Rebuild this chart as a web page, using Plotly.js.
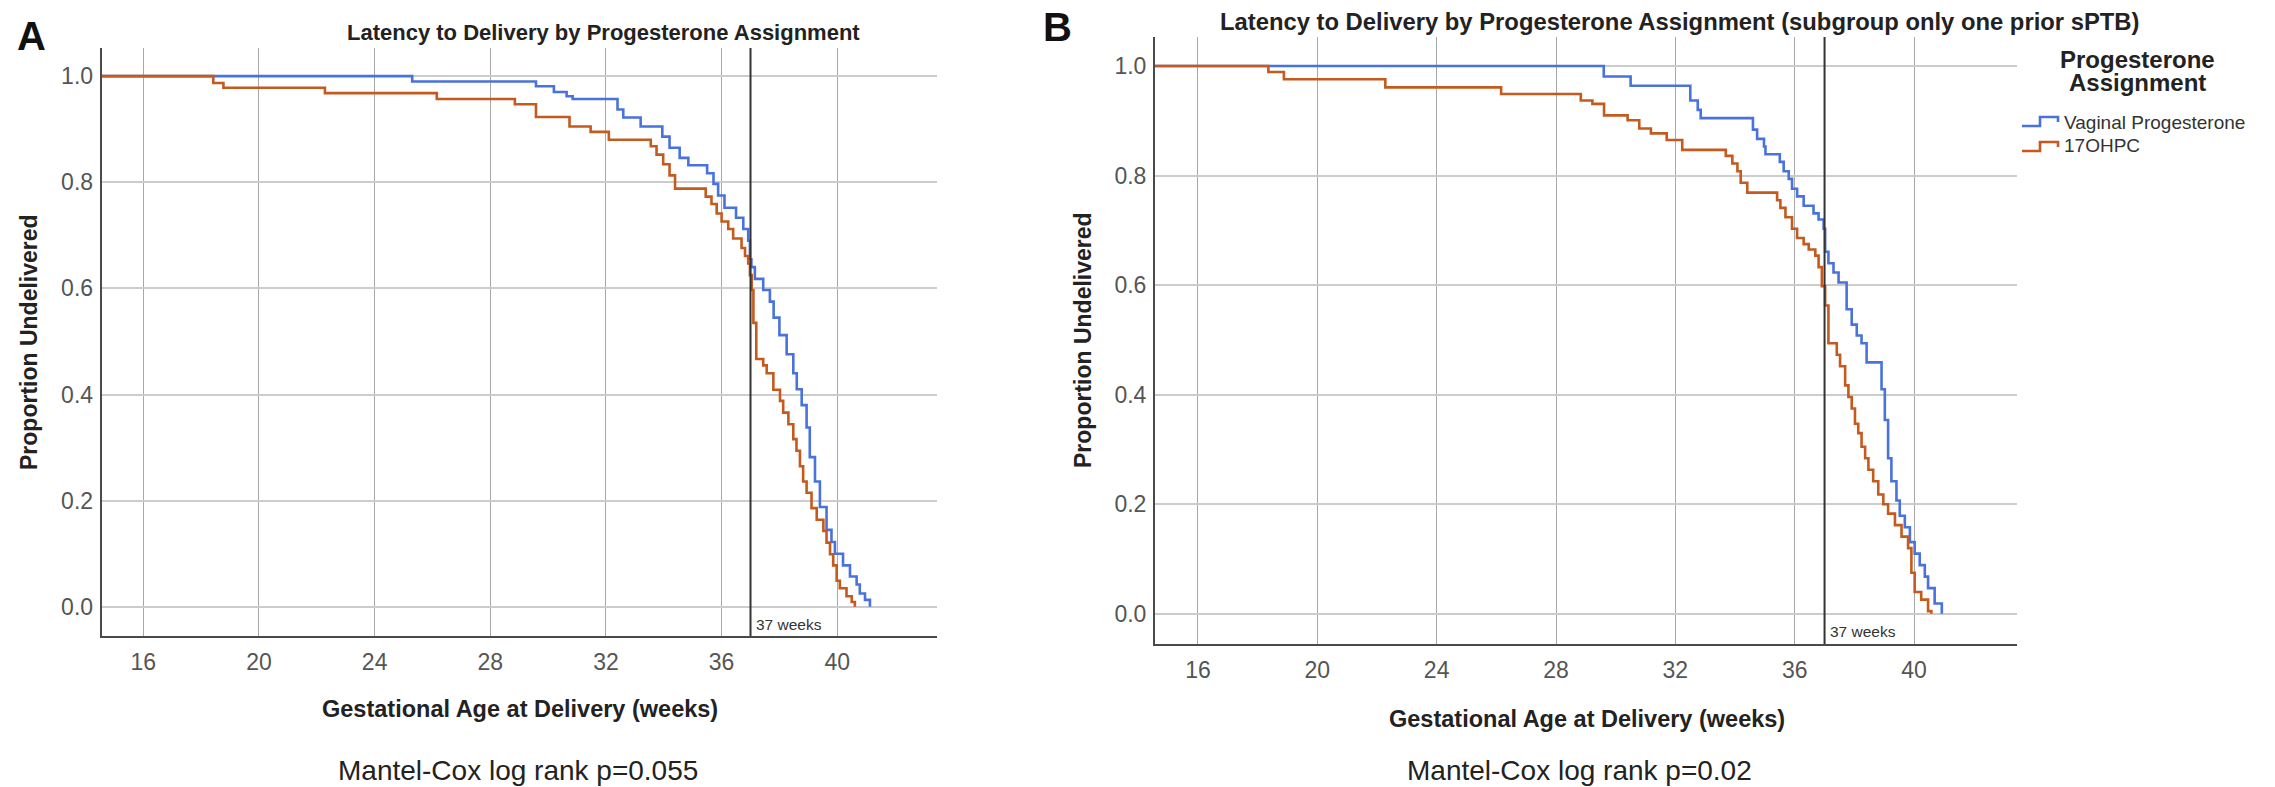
<!DOCTYPE html>
<html><head><meta charset="utf-8">
<script src="https://cdn.plot.ly/plotly-3.0.1.min.js"></script>
<style>html,body{margin:0;padding:0;background:#fff;}#chart{width:2275px;height:787px;}</style>
</head><body><div id="chart"></div>
<script>
// ---------------- data ----------------
const seriesNames = ["Vaginal Progesterone", "17OHPC"];

const weeksA_vaginal = [14.56,25.3,29.58,30.2,30.64,30.85,32.4,32.6,33.2,33.95,34.2,34.55,34.85,35.5,35.72,35.88,36.1,36.5,36.75,36.92,36.98,37.03,37.15,37.44,37.67,37.8,38.0,38.25,38.48,38.6,38.77,38.94,39.05,39.23,39.4,39.63,39.8,39.92,40.2,40.44,40.67,40.78,40.96,41.13];
const survA_vaginal  = [1.0,0.990,0.981,0.970,0.962,0.957,0.937,0.922,0.905,0.886,0.865,0.846,0.832,0.817,0.797,0.775,0.752,0.733,0.712,0.690,0.655,0.640,0.618,0.597,0.575,0.545,0.512,0.476,0.440,0.410,0.380,0.338,0.282,0.236,0.188,0.145,0.122,0.100,0.078,0.057,0.042,0.025,0.013,0.0];

const weeksA_17ohpc = [14.56,18.42,18.77,22.28,26.15,28.85,29.58,30.74,31.47,32.1,33.55,33.75,33.98,34.2,34.39,35.45,35.65,35.83,36.0,36.23,36.4,36.69,36.81,36.92,36.98,37.04,37.1,37.2,37.44,37.56,37.79,38.02,38.13,38.31,38.48,38.59,38.71,38.82,38.94,39.11,39.29,39.52,39.63,39.75,39.86,39.98,40.09,40.32,40.5,40.61];
const survA_17ohpc  = [1.0,0.987,0.978,0.968,0.957,0.947,0.923,0.905,0.895,0.880,0.868,0.852,0.834,0.813,0.788,0.773,0.759,0.741,0.726,0.712,0.694,0.676,0.661,0.647,0.625,0.597,0.535,0.467,0.455,0.440,0.409,0.388,0.366,0.344,0.316,0.294,0.265,0.236,0.215,0.186,0.164,0.143,0.121,0.099,0.078,0.049,0.035,0.020,0.009,0.0];

const weeksB_vaginal = [14.55,29.6,30.5,32.5,32.75,32.85,34.6,34.74,34.97,35.02,35.5,35.63,35.8,35.91,36.08,36.3,36.63,36.8,36.97,37.02,37.13,37.3,37.47,37.74,37.91,38.08,38.24,38.41,38.91,39.02,39.13,39.24,39.41,39.52,39.69,39.86,40.02,40.19,40.36,40.47,40.69,40.93];
const survB_vaginal  = [1.0,0.981,0.964,0.937,0.920,0.905,0.884,0.867,0.853,0.839,0.825,0.808,0.794,0.776,0.762,0.745,0.731,0.720,0.703,0.661,0.640,0.623,0.605,0.556,0.528,0.508,0.494,0.459,0.410,0.354,0.284,0.242,0.207,0.179,0.158,0.131,0.110,0.089,0.068,0.047,0.019,0.0];

const weeksB_17ohpc = [14.55,18.36,18.88,22.28,26.16,28.83,29.22,29.61,30.4,30.79,31.18,31.71,32.23,33.69,33.91,34.08,34.19,34.41,35.41,35.52,35.69,35.91,36.08,36.3,36.47,36.69,36.8,36.91,37.02,37.13,37.41,37.52,37.69,37.8,37.91,38.02,38.13,38.24,38.36,38.47,38.63,38.8,38.97,39.13,39.36,39.58,39.8,39.91,40.02,40.24,40.47,40.58];
const survB_17ohpc  = [1.0,0.989,0.976,0.961,0.949,0.937,0.931,0.910,0.901,0.886,0.877,0.865,0.847,0.836,0.822,0.808,0.787,0.769,0.755,0.741,0.724,0.703,0.686,0.675,0.665,0.654,0.633,0.598,0.563,0.494,0.473,0.452,0.417,0.396,0.375,0.347,0.330,0.305,0.284,0.263,0.242,0.218,0.200,0.183,0.162,0.141,0.120,0.075,0.040,0.026,0.005,0.0];

const xTicks = [16,20,24,28,32,36,40];
const xTickLabels = ["16","20","24","28","32","36","40"];
const yTicks = [0,0.2,0.4,0.6,0.8,1.0];
const yTickLabels = ["0.0","0.2","0.4","0.6","0.8","1.0"];
const refWeek = 37;
const refLabel = "37 weeks";

const panelLabels = ["A", "B"];
const titleA = "Latency to Delivery by Progesterone Assignment";
const titleB = "Latency to Delivery by Progesterone Assignment (subgroup only one prior sPTB)";
const xTitle = "Gestational Age at Delivery (weeks)";
const yTitle = "Proportion Undelivered";
const pTextA = "Mantel-Cox log rank p=0.055";
const pTextB = "Mantel-Cox log rank p=0.02";
const legendTitleLines = ["Progesterone", "Assignment"];

// ---------------- styling ----------------
const W = 2275, H = 787;
const px = v => v / W;
const py = v => 1 - v / H;
const FONT = "Liberation Sans, Arial, sans-serif";
const COLORS = ["#4a72dc", "#c45a1e"];

function line(x, y, name, color, xa, ya) {
  return {type: "scatter", mode: "lines", x: x, y: y, name: name,
    line: {shape: "hv", color: color, width: 2.6},
    xaxis: xa, yaxis: ya, showlegend: false, hoverinfo: "x+y"};
}

const data = [
  line(weeksA_vaginal, survA_vaginal, seriesNames[0], COLORS[0], "x", "y"),
  line(weeksA_17ohpc, survA_17ohpc, seriesNames[1], COLORS[1], "x", "y"),
  line(weeksB_vaginal, survB_vaginal, seriesNames[0], COLORS[0], "x2", "y2"),
  line(weeksB_17ohpc, survB_17ohpc, seriesNames[1], COLORS[1], "x2", "y2")
];

const xRange = [14.56, 43.45];
const yRange = [-0.055, 1.053];

function xax(domain, anchor) {
  return {domain: domain, range: xRange, anchor: anchor, tickmode: "array", tickvals: xTicks, ticktext: xTickLabels,
    showgrid: true, gridcolor: "#a8a8a8", gridwidth: 1, zeroline: false,
    showline: true, linecolor: "#4a4a4a", linewidth: 2, ticks: "", ticklabelstandoff: 4,
    tickfont: {family: FONT, size: 23, color: "#555"}, fixedrange: true};
}
function yax(domain, anchor) {
  return {domain: domain, range: yRange, anchor: anchor, tickmode: "array", tickvals: yTicks, ticktext: yTickLabels,
    showgrid: true, gridcolor: "#cccccc", gridwidth: 2, zeroline: false,
    showline: true, linecolor: "#4a4a4a", linewidth: 2, ticks: "", ticklabelstandoff: 2,
    tickfont: {family: FONT, size: 23, color: "#555"}, fixedrange: true};
}

const domXA = [px(101.7), px(937)], domYA = [py(636), py(48)];
const domXB = [px(1155), px(2017)], domYB = [py(644), py(37)];

// custom step-glyph legend (SPSS style)
function glyph(x0, yLow, yHigh, yEnd, color) {
  const p = "M" + px(x0) + "," + py(yLow) + " H" + px(x0 + 18) + " V" + py(yHigh) +
            " H" + px(x0 + 36) + " V" + py(yEnd);
  return {type: "path", xref: "paper", yref: "paper", path: p, line: {color: color, width: 2.6}};
}

const shapes = [
  {type: "line", xref: "x", yref: "y domain", x0: refWeek, x1: refWeek, y0: 0, y1: 1, line: {color: "#333", width: 2}},
  {type: "line", xref: "x2", yref: "y2 domain", x0: refWeek, x1: refWeek, y0: 0, y1: 1, line: {color: "#333", width: 2}},
  glyph(2022, 126, 117, 122, COLORS[0]),
  glyph(2022, 151, 142, 147, COLORS[1])
];

function ann(text, x, y, size, opts) {
  return Object.assign({text: text, xref: "paper", yref: "paper", x: px(x), y: py(y),
    xanchor: "center", yanchor: "middle", showarrow: false,
    font: {family: FONT, size: size, color: "#222"}}, opts || {});
}

const annotations = [
  ann("<b>" + panelLabels[0] + "</b>", 31, 36, 40, {font: {family: FONT, size: 40, color: "#111"}}),
  ann("<b>" + panelLabels[1] + "</b>", 1057, 27, 40, {font: {family: FONT, size: 40, color: "#111"}}),
  ann("<b>" + titleA + "</b>", 345, 33, 22, {xanchor: "left"}),
  ann("<b>" + titleB + "</b>", 1218, 21, 23.8, {xanchor: "left"}),
  ann("<b>" + xTitle + "</b>", 520, 709, 23.5),
  ann("<b>" + xTitle + "</b>", 1587, 719, 23.5),
  ann("<b>" + yTitle + "</b>", 29, 342, 23, {textangle: -90}),
  ann("<b>" + yTitle + "</b>", 1083, 340, 23, {textangle: -90}),
  ann(pTextA, 518, 770, 28),
  ann(pTextB, 1579, 770, 28),
  ann("<b>" + legendTitleLines[0] + "</b>", 2137, 60, 24),
  ann("<b>" + legendTitleLines[1] + "</b>", 2137, 83, 24),
  ann(seriesNames[0], 2062, 122, 19, {xanchor: "left", font: {family: FONT, size: 19, color: "#333"}}),
  ann(seriesNames[1], 2062, 146, 19, {xanchor: "left", font: {family: FONT, size: 19, color: "#333"}}),
  {text: refLabel, xref: "x", yref: "y", x: refWeek, y: -0.033, xanchor: "left", yanchor: "middle",
    xshift: 3, showarrow: false, font: {family: FONT, size: 15.5, color: "#333"}},
  {text: refLabel, xref: "x2", yref: "y2", x: refWeek, y: -0.033, xanchor: "left", yanchor: "middle",
    xshift: 3, showarrow: false, font: {family: FONT, size: 15.5, color: "#333"}}
];

const layout = {
  width: W, height: H,
  margin: {l: 0, r: 0, t: 0, b: 0, pad: 0},
  paper_bgcolor: "#fff", plot_bgcolor: "#fff",
  xaxis: xax(domXA, "y"), yaxis: yax(domYA, "x"),
  xaxis2: xax(domXB, "y2"), yaxis2: yax(domYB, "x2"),
  shapes: shapes,
  annotations: annotations,
  showlegend: false
};

Plotly.newPlot("chart", data, layout, {staticPlot: true, displayModeBar: false});
</script></body></html>
